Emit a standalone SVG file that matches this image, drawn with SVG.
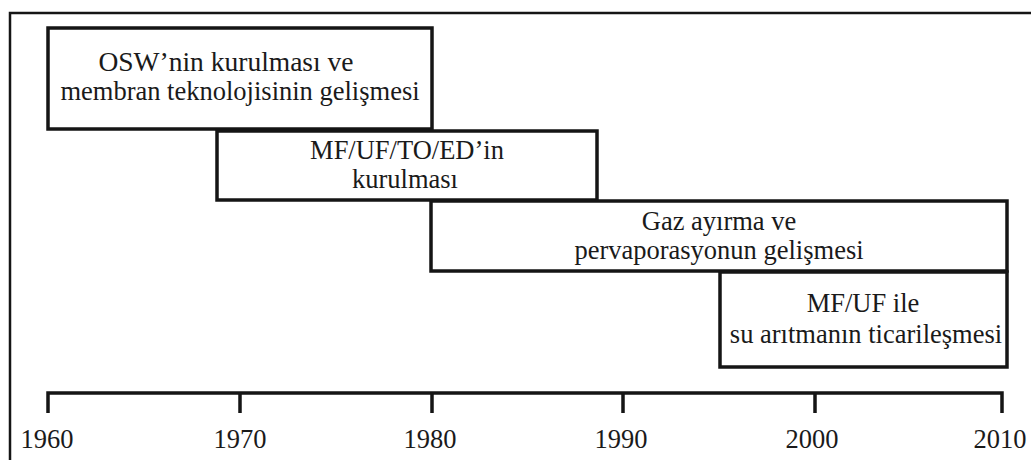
<svg xmlns="http://www.w3.org/2000/svg" width="1031" height="460" viewBox="0 0 1031 460">
<style>
.box{fill:#fff;stroke:#151515;stroke-width:3.5}
.t{font-family:'Liberation Serif','Times New Roman',serif;font-size:26.5px;fill:#1a1a1a;text-anchor:middle}
.ax{fill:none;stroke:#151515;stroke-width:3.5}
</style>
<rect x="0" y="0" width="1031" height="460" fill="#fff"/>
<rect x="10" y="13" width="1040" height="470" fill="none" stroke="#151515" stroke-width="2.5"/>
<g id="node1">
<rect class="box" x="48" y="28" width="384" height="101"/>
<text class="t" x="226" y="71" style="font-size:27.5px">OSW’nin kurulması ve</text>
<text class="t" x="240" y="100">membran teknolojisinin gelişmesi</text>
</g>
<g id="node2">
<rect class="box" x="217" y="131" width="380" height="69"/>
<text class="t" x="407" y="159">MF/UF/TO/ED’in</text>
<text class="t" x="405" y="188">kurulması</text>
</g>
<g id="node3">
<rect class="box" x="431" y="201" width="576" height="70"/>
<text class="t" x="719" y="230">Gaz ayırma ve</text>
<text class="t" x="719" y="259">pervaporasyonun gelişmesi</text>
</g>
<g id="node4">
<rect class="box" x="720" y="272" width="287" height="95"/>
<text class="t" x="863" y="312">MF/UF ile</text>
<text class="t" x="866" y="343">su arıtmanın ticarileşmesi</text>
</g>
<g id="connectors">
<path class="ax" d="M48,413 V393 H1002 V413 M240,393 V413 M432,393 V413 M623,393 V413 M815,393 V413"/>
</g>
<g id="labels">
<text class="t" x="47" y="448">1960</text>
<text class="t" x="240" y="448">1970</text>
<text class="t" x="430" y="448">1980</text>
<text class="t" x="621" y="448">1990</text>
<text class="t" x="812" y="448">2000</text>
<text class="t" x="1000" y="448">2010</text>
</g>
</svg>
